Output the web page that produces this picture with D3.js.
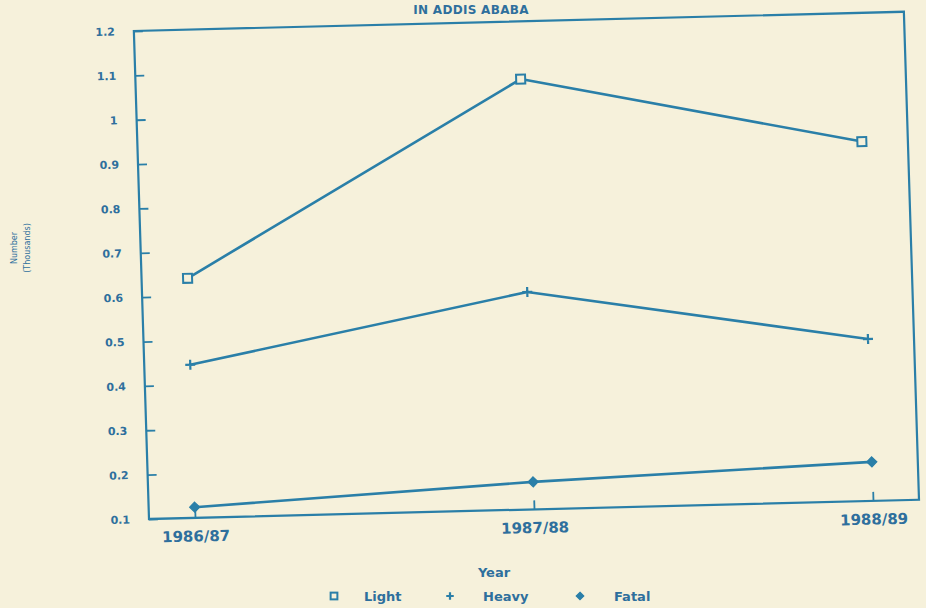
<!DOCTYPE html>
<html>
<head>
<meta charset="utf-8">
<script src="https://cdn.jsdelivr.net/npm/d3@7/dist/d3.min.js"></script>
<style>
  html, body { margin: 0; padding: 0; background: #f6f1db; }
  svg { display: block; }
  text { font-family: "DejaVu Sans", sans-serif; font-weight: bold; }
</style>
</head>
<body>
<svg id="chart" width="926" height="608"></svg>
<script>
// ---- data ----
const years = ["1986/87", "1987/88", "1988/89"];
const light = [0.64, 1.07, 0.91];
const heavy = [0.445, 0.59, 0.465];
const fatal = [0.124, 0.162, 0.188];
const yTicks = [0.1, 0.2, 0.3, 0.4, 0.5, 0.6, 0.7, 0.8, 0.9, 1.0, 1.1, 1.2];
const yTickLabels = ["0.1", "0.2", "0.3", "0.4", "0.5", "0.6", "0.7", "0.8", "0.9", "1", "1.1", "1.2"];
const legendNames = ["Light", "Heavy", "Fatal"];

// ---- layout ----
const lineColor = "#2a7fa8";
const textColor = "#2e6f9d";
const x0 = 149, yB = 519, W = 770, H = 488;
const k1 = 0.031, k2 = -0.025; // scan tilt

const svg = d3.select("#chart");
svg.append("rect").attr("width", 926).attr("height", 608).attr("fill", "#f6f1db");

const g = svg.append("g")
  .attr("transform", `matrix(1 ${k2} ${k1} 1 ${-k1 * yB} ${-k2 * x0})`);

const x = d3.scalePoint().domain(years).range([x0 + 46, x0 + W - 46]);
const y = d3.scaleLinear().domain([0.1, 1.2]).range([yB, yB - H]);

// frame
g.append("rect")
  .attr("x", x0).attr("y", yB - H).attr("width", W).attr("height", H)
  .attr("fill", "none").attr("stroke", lineColor).attr("stroke-width", 2.2);

// y axis
const yAxis = d3.axisLeft(y).tickValues(yTicks)
  .tickFormat((d, i) => yTickLabels[i]).tickSize(-9).tickPadding(19);
const gy = g.append("g").attr("transform", `translate(${x0},0)`).call(yAxis);
gy.select(".domain").remove();
gy.selectAll(".tick line").attr("stroke", lineColor).attr("stroke-width", 1.8);
gy.selectAll(".tick text").attr("fill", textColor).style("font-size", "11px")
  .style("font-family", "'DejaVu Sans', sans-serif").style("font-weight", "bold");

// x axis
const xAxis = d3.axisBottom(x).tickSize(-9).tickPadding(13);
const gx = g.append("g").attr("transform", `translate(0,${yB})`).call(xAxis);
gx.select(".domain").remove();
gx.selectAll(".tick line").attr("stroke", lineColor).attr("stroke-width", 1.8);
gx.selectAll(".tick text").attr("fill", textColor).style("font-size", "15px")
  .style("font-family", "'DejaVu Sans', sans-serif").style("font-weight", "bold");

// lines
const line = d3.line().x((d, i) => x(years[i])).y(d => y(d));
const series = [light, heavy, fatal];
series.forEach(s => {
  g.append("path").datum(s).attr("d", line)
    .attr("fill", "none").attr("stroke", lineColor).attr("stroke-width", 2.6)
    .attr("stroke-linejoin", "round");
});

// markers
function drawMarker(sel, type, cx, cy, scale) {
  const s = scale || 1;
  if (type === 0) {
    sel.append("rect").attr("x", cx - 4.5 * s).attr("y", cy - 4.5 * s)
      .attr("width", 9 * s).attr("height", 9 * s)
      .attr("fill", "#f6f1db").attr("stroke", lineColor).attr("stroke-width", 2);
  } else if (type === 1) {
    sel.append("path")
      .attr("d", `M${cx - 5 * s},${cy}H${cx + 5 * s}M${cx},${cy - 5 * s}V${cy + 5 * s}`)
      .attr("stroke", lineColor).attr("stroke-width", 2.2);
  } else {
    const r = 5 * s;
    sel.append("path")
      .attr("d", `M${cx},${cy - r}L${cx + r},${cy}L${cx},${cy + r}L${cx - r},${cy}Z`)
      .attr("fill", lineColor).attr("stroke", lineColor).attr("stroke-width", 1.2);
  }
}
series.forEach((s, si) => {
  s.forEach((v, i) => drawMarker(g, si, x(years[i]), y(v)));
});

// title (partially visible)
svg.append("text").attr("x", 471).attr("y", 14).attr("text-anchor", "middle")
  .attr("fill", textColor).style("font-size", "12px").style("letter-spacing", "0.3px")
  .text("IN ADDIS ABABA");

// y-axis title
const yt = svg.append("g").attr("transform", "translate(17,248) rotate(-90)");
yt.append("text").attr("x", 0).attr("y", 0).attr("text-anchor", "middle")
  .attr("fill", textColor).style("font-size", "8px").style("font-weight", "normal")
  .text("Number");
yt.append("text").attr("x", 0).attr("y", 13).attr("text-anchor", "middle")
  .attr("fill", textColor).style("font-size", "8px").style("font-weight", "normal")
  .text("(Thousands)");

// x-axis title
svg.append("text").attr("x", 494).attr("y", 577).attr("text-anchor", "middle")
  .attr("fill", textColor).style("font-size", "13px").text("Year");

// legend
const legendX = [334, 450, 580];
const legendTextX = [364, 483, 614];
legendNames.forEach((name, i) => {
  drawMarker(svg, i, legendX[i], 596, 0.75);
  svg.append("text").attr("x", legendTextX[i]).attr("y", 601)
    .attr("fill", textColor).style("font-size", "13px").text(name);
});
</script>
</body>
</html>
